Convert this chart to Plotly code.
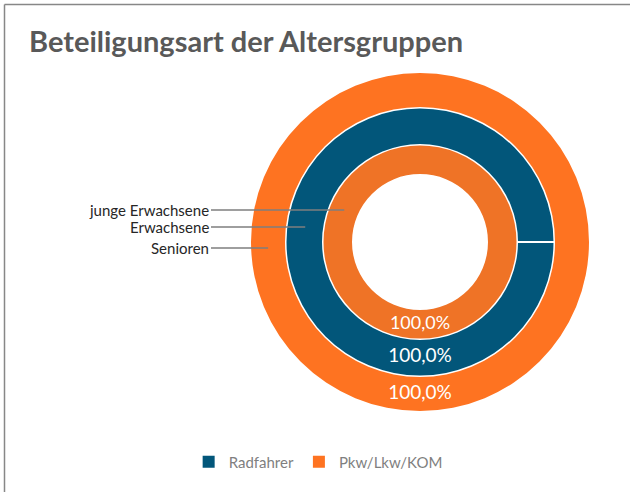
import math
import plotly.graph_objects as go

# Data: share of participation type per age group (one ring per group)
categories = ["Radfahrer", "Pkw/Lkw/KOM"]
groups = ["junge Erwachsene", "Erwachsene", "Senioren"]
junge_erwachsene = [0.0, 100.0]
erwachsene = [100.0, 0.0]
senioren = [0.0, 100.0]

W, H = 630, 492
CX, CY = 420, 242            # ring centre in px
BLUE = "#02567A"
ORANGE = "#FE7321"
ORANGE_INNER = "#EF7326"
FONT = "Lato, 'Source Sans Pro', sans-serif"

# (outer radius px, inner radius px) for each ring; the small gaps between
# the radii leave the thin white separators between rings
rings = {
    "junge Erwachsene": (96.5, 68),
    "Erwachsene": (133.5, 98),
    "Senioren": (169, 135),
}
values = {
    "junge Erwachsene": junge_erwachsene,
    "Erwachsene": erwachsene,
    "Senioren": senioren,
}
colors = {
    "junge Erwachsene": [BLUE, ORANGE_INNER],
    "Erwachsene": [BLUE, ORANGE],
    "Senioren": [BLUE, ORANGE],
}


def px_x(x):
    return x / W


def px_y(y):
    return 1 - y / H


def fmt(v):
    return f"{v:.1f}%".replace(".", ",") if v > 0 else ""


fig = go.Figure()
for g in ["Senioren", "Erwachsene", "junge Erwachsene"]:
    r_out, r_in = rings[g]
    fig.add_trace(go.Pie(
        labels=categories,
        values=values[g],
        name=g,
        sort=False,
        direction="counterclockwise",
        hole=r_in / r_out,
        domain=dict(x=[px_x(CX - r_out), px_x(CX + r_out)],
                    y=[px_y(CY + r_out), px_y(CY - r_out)]),
        marker=dict(colors=colors[g], line=dict(color="white", width=0)),
        text=[fmt(v) for v in values[g]],
        textinfo="text",
        textposition="inside",
        insidetextorientation="horizontal",
        textfont=dict(family=FONT, size=19, color="white"),
        hoverinfo="label+value+name",
    ))

# slice border of the full blue ring at 3 o'clock
r_out, r_in = rings["Erwachsene"]
fig.add_shape(type="line", xref="paper", yref="paper",
              x0=px_x(CX + r_in - 1), x1=px_x(CX + r_out + 1),
              y0=px_y(CY), y1=px_y(CY),
              line=dict(color="white", width=2))

# ring labels with leader lines
label_rows = {"junge Erwachsene": 210, "Erwachsene": 227, "Senioren": 248}
tail_x = 211
for g, ly in label_rows.items():
    r_out, r_in = rings[g]
    r_mid = (r_out + r_in) / 2
    dy = ly - CY
    tip_x = CX - math.sqrt(r_mid ** 2 - dy ** 2)
    fig.add_annotation(
        x=px_x(tip_x), y=px_y(ly), xref="paper", yref="paper",
        ax=tail_x - tip_x, ay=0,
        text=g, showarrow=True, arrowhead=0, arrowwidth=1.5,
        arrowcolor="#7F7F7F", xanchor="right", yanchor="middle",
        font=dict(family=FONT, size=15, color="#262626"),
    )

# outer frame (top and left edges)
fig.add_shape(type="line", xref="paper", yref="paper",
              x0=px_x(4.5), x1=1, y0=px_y(4.5), y1=px_y(4.5),
              line=dict(color="#878787", width=1.5))
fig.add_shape(type="line", xref="paper", yref="paper",
              x0=px_x(4.5), x1=px_x(4.5), y0=0, y1=px_y(4.5),
              line=dict(color="#878787", width=1.5))

fig.update_layout(
    width=W, height=H,
    margin=dict(l=0, r=0, t=0, b=0),
    paper_bgcolor="white",
    plot_bgcolor="white",
    title=dict(text="<b>Beteiligungsart der Altersgruppen</b>",
               x=px_x(29), xanchor="left", y=px_y(42), yanchor="middle",
               font=dict(family=FONT, size=29, color="#595959")),
    showlegend=True,
    legend=dict(orientation="h", x=0.505, xanchor="center",
                y=px_y(462), yanchor="middle",
                font=dict(family=FONT, size=15, color="#7F7F7F"),
                itemwidth=30, traceorder="normal"),
)

fig.write_html("out.html")
